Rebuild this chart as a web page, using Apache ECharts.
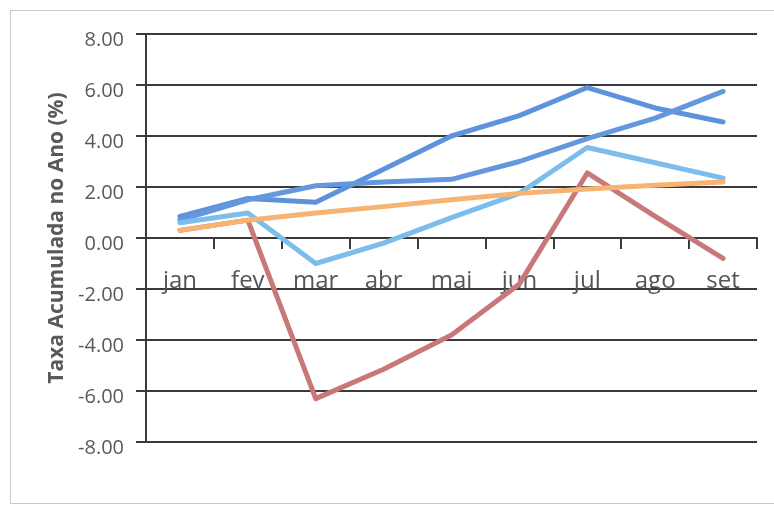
<!DOCTYPE html>
<html>
<head>
<meta charset="utf-8">
<script src="https://cdn.jsdelivr.net/npm/echarts@6/dist/echarts.min.js"></script>
<style>
html,body{margin:0;padding:0;background:#fff;}
#chart{width:774px;height:514px;}
</style>
</head>
<body>
<div id="chart"></div>
<script>
var categories = ['jan','fev','mar','abr','mai','jun','jul','ago','set'];
var seriesA = [0.85, 1.55, 1.4, 2.7, 4.0, 4.8, 5.9, 5.1, 4.55];
var seriesB = [0.7, 1.5, 2.05, 2.2, 2.3, 3.0, 3.9, 4.7, 5.75];
var seriesC = [0.6, 0.98, -1.0, -0.2, 0.8, 1.75, 3.55, 2.95, 2.35];
var seriesE = [0.3, 0.7, -6.3, -5.15, -3.8, -1.8, 2.55, 0.85, -0.8];
var seriesD = [0.3, 0.7, 0.98, 1.23, 1.5, 1.75, 1.92, 2.07, 2.2];
var yTicks = {min: -8, max: 8, interval: 2};
var yTitle = 'Taxa Acumulada no Ano (%)';

var chart = echarts.init(document.getElementById('chart'), null, {renderer:'canvas'});
function line(name, data, color){
  return {name:name, type:'line', data:data, symbol:'none', smooth:false,
    lineStyle:{color:color, width:5, cap:'round', join:'round'}, itemStyle:{color:color}, z:3};
}
chart.setOption({
  animation:false,
  backgroundColor:'#fff',
  graphic:[{type:'rect', shape:{x:10.5,y:10.5,width:770,height:493},
    style:{fill:'none', stroke:'#c8c8c8', lineWidth:1}, z:-1}],
  grid:{left:146, right:17, top:34, bottom:72, containLabel:false},
  xAxis:{type:'category', data:categories, boundaryGap:true, position:'bottom', offset:-204,
    axisLine:{onZero:false, lineStyle:{color:'#3a3a3a', width:2}},
    axisTick:{show:true, length:11, inside:false, lineStyle:{color:'#3a3a3a', width:2}},
    axisLabel:{color:'#555', fontSize:24, fontFamily:'Open Sans', margin:31},
    splitLine:{show:false}},
  yAxis:{type:'value', min:yTicks.min, max:yTicks.max, interval:yTicks.interval,
    name:yTitle, nameLocation:'middle', nameGap:65,
    nameTextStyle:{color:'#595959', fontSize:21, fontWeight:'bold', fontFamily:'Open Sans'},
    axisLine:{show:true, lineStyle:{color:'#3a3a3a', width:2}},
    axisTick:{show:true, length:10, lineStyle:{color:'#3a3a3a', width:2}},
    axisLabel:{color:'#595959', fontSize:20, fontFamily:'Open Sans', margin:22,
      verticalAlign:'top', lineHeight:12,
      formatter:function(v){return v.toFixed(2);}},
    splitLine:{show:true, lineStyle:{color:'#3a3a3a', width:2}}},
  series:[
    line('A', seriesA, '#5e92dc'),
    line('B', seriesB, '#6497de'),
    line('C', seriesC, '#7dbdec'),
    line('E', seriesE, '#c87878'),
    line('D', seriesD, '#f6b371')
  ]
});
</script>
</body>
</html>
